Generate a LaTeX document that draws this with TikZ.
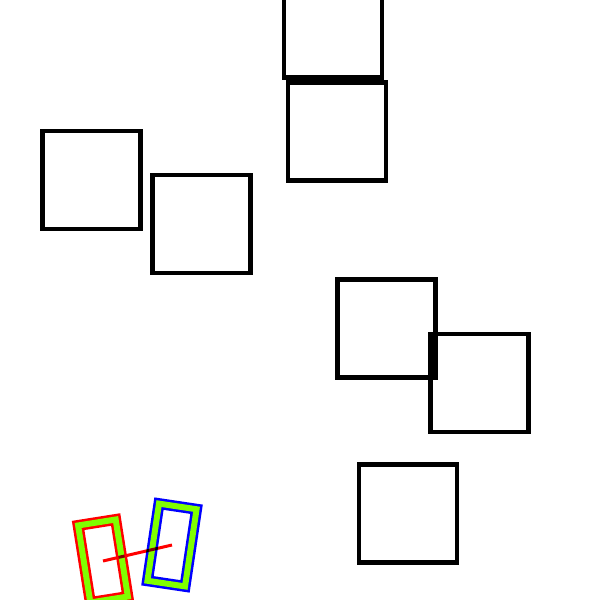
\documentclass[tikz,border=0pt]{standalone}
\begin{document}
\begin{tikzpicture}[x=1pt,y=-1pt,
  sq/.style={draw=black,line width=4.5pt,rectangle,minimum width=98pt,minimum height=98pt,inner sep=0pt,outer sep=0pt},
  bar/.style={rectangle,inner sep=0pt,outer sep=0pt,minimum width=38pt,minimum height=78pt,line width=2.5pt,double=chart,double distance=6pt}]
\definecolor{chart}{RGB}{128,255,0}
\useasboundingbox (0,0) rectangle (600,600);
\node[sq] (s1) at (333,28.5) {};
\node[sq] (s2) at (337,131.5) {};
\node[sq] (s3) at (91.5,180) {};
\node[sq] (s4) at (201.5,224) {};
\node[sq] (s5) at (386.5,328.5) {};
\node[sq] (s6) at (479.5,383) {};
\node[sq] (s7) at (408,513.5) {};
\node[bar,draw=red,rotate=9] (L) at (103,561) {};
\node[bar,draw=blue,rotate=-8.5] (R) at (172,545) {};
\begin{scope}[blend mode=multiply]
\draw[red,line width=3pt] (L.center) -- (R.center);
\end{scope}
\end{tikzpicture}
\end{document}
